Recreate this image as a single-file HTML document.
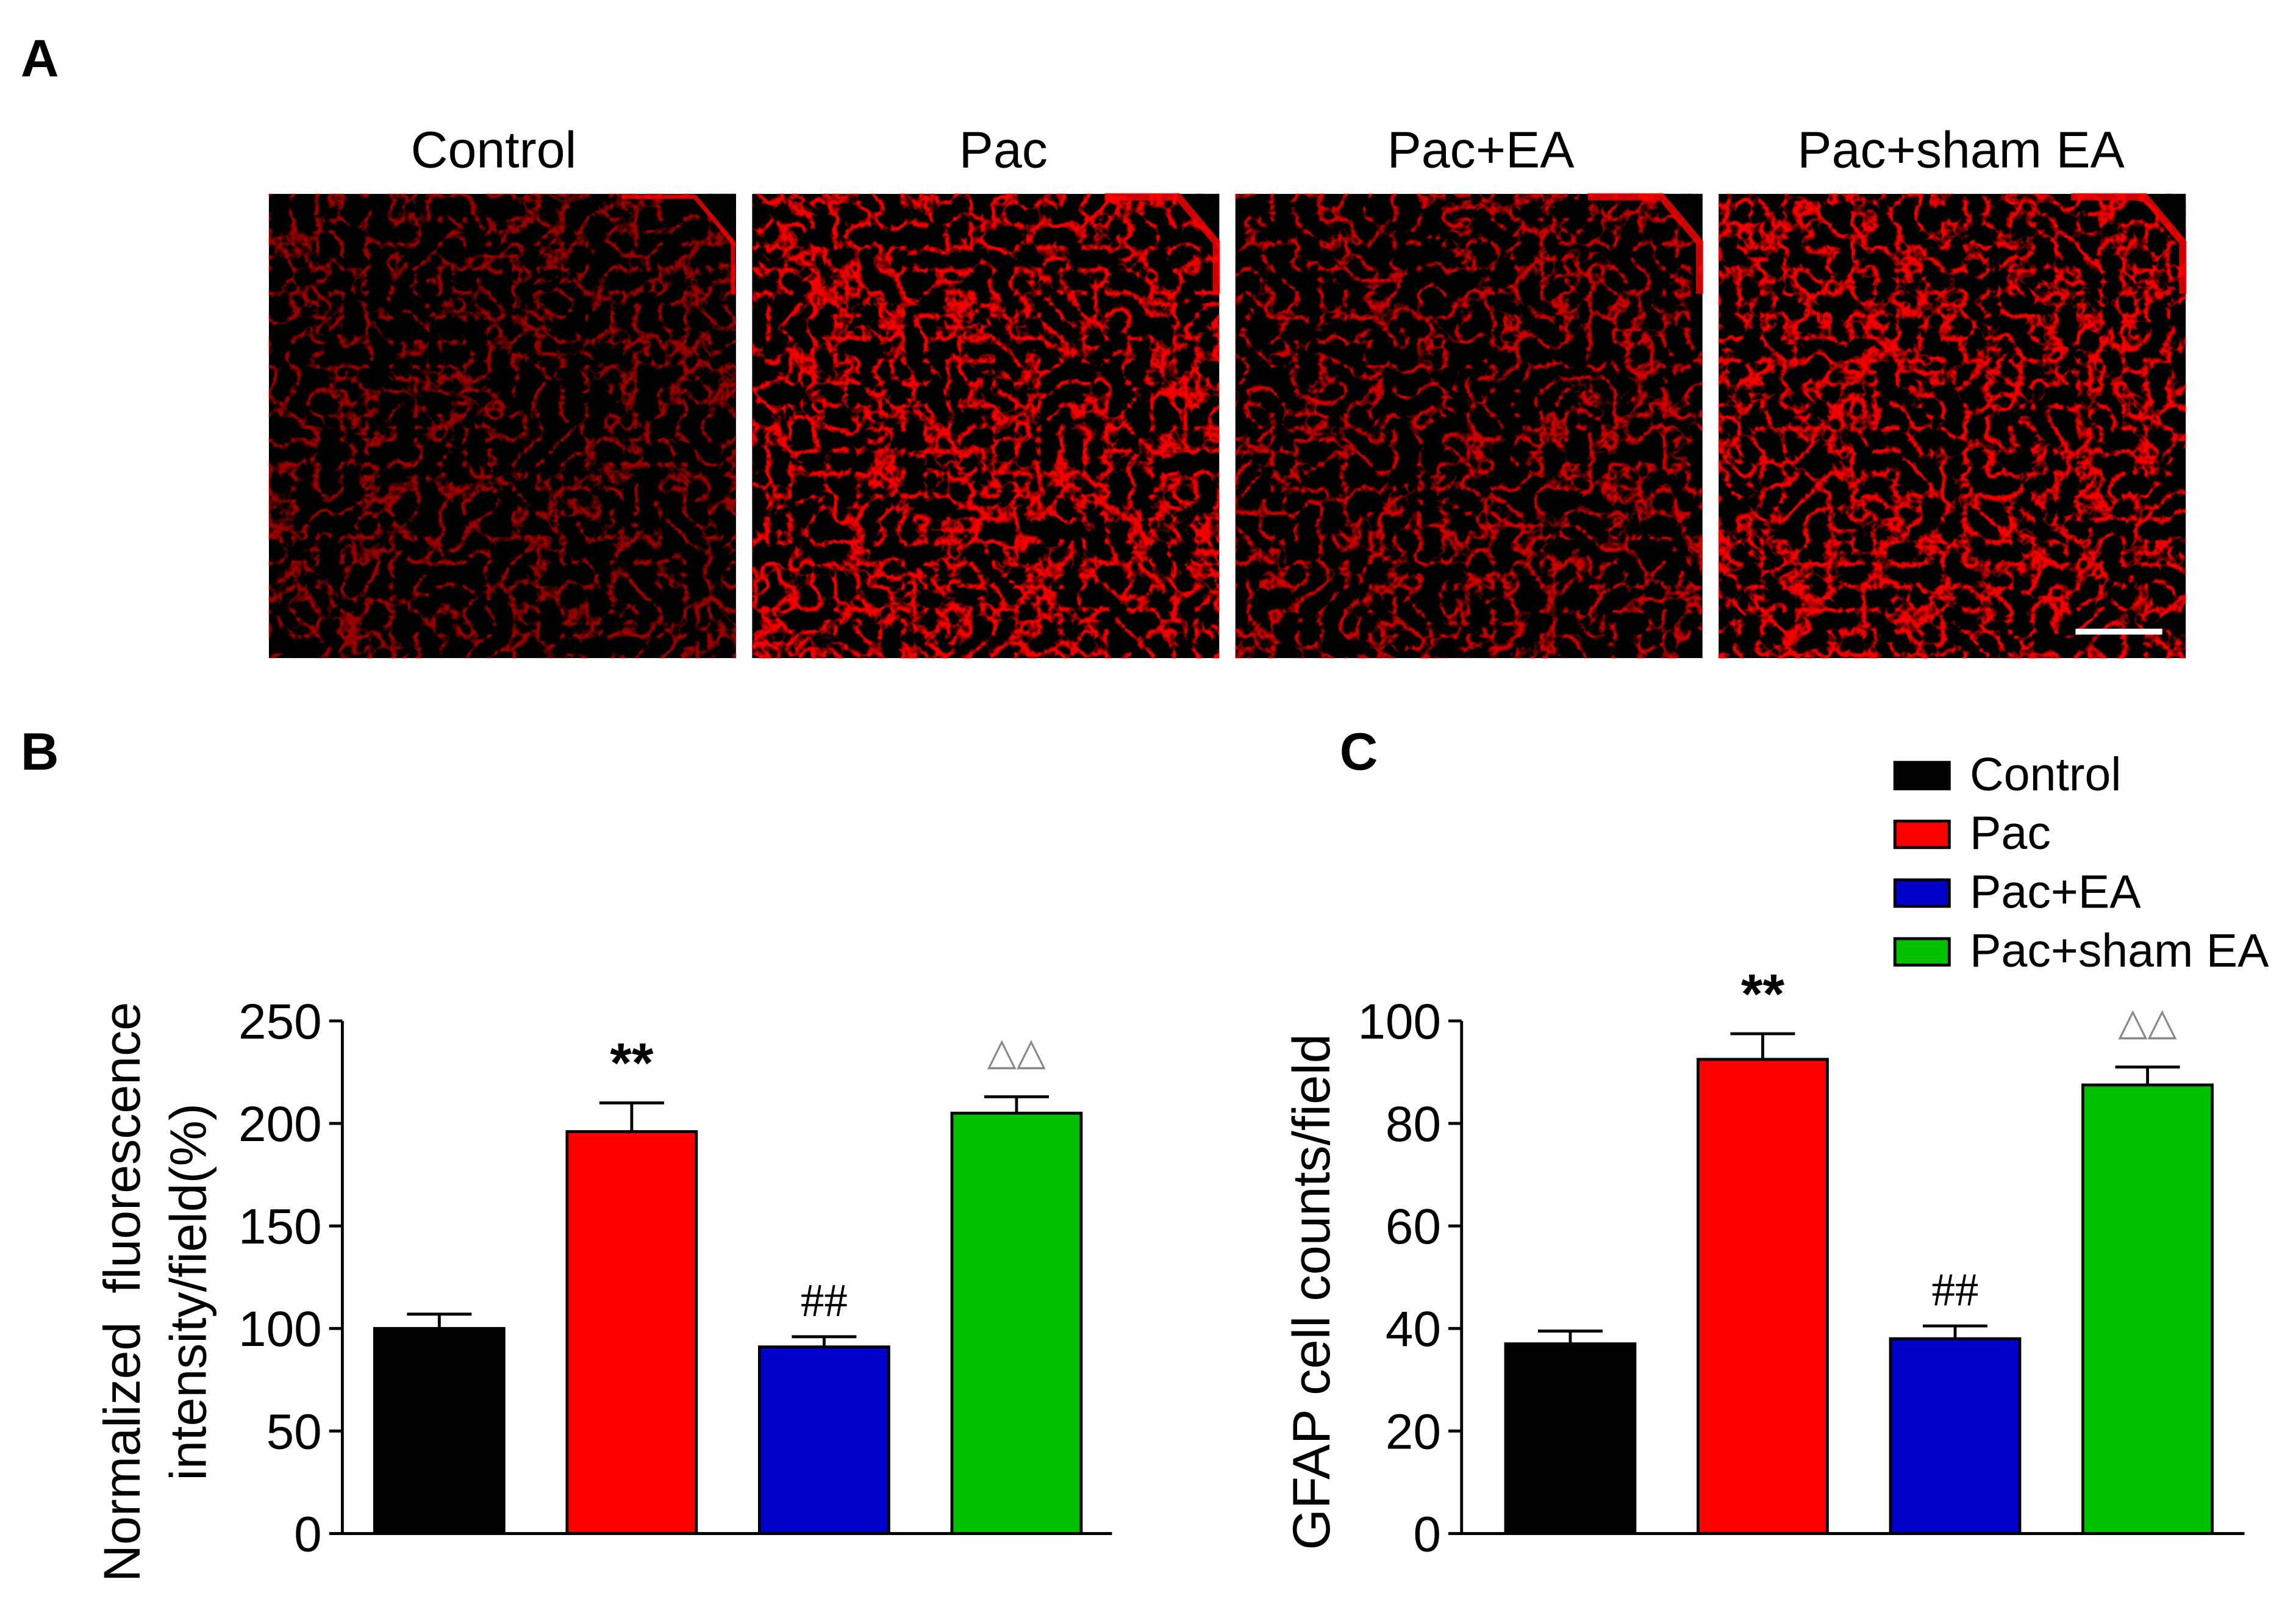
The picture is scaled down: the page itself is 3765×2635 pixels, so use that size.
<!DOCTYPE html>
<html><head><meta charset="utf-8"><style>html,body{margin:0;padding:0;background:#fff}svg{display:block}</style></head>
<body>
<svg id="fig" xmlns="http://www.w3.org/2000/svg" width="3765" height="2635" viewBox="0 0 1563 1094" font-family="Liberation Sans, Arial, sans-serif">
<defs>
<filter id="tex" x="0" y="0" width="100%" height="100%">
<feTurbulence type="turbulence" baseFrequency="0.06" numOctaves="3" seed="4"/>
<feColorMatrix type="matrix" values="0 0 0 0 1  0 0 0 0 0  0 0 0 0 0  0 0 0 -6 1.5"/>
</filter>
<filter id="tex2" x="0" y="0" width="100%" height="100%">
<feTurbulence type="turbulence" baseFrequency="0.065" numOctaves="3" seed="9"/>
<feColorMatrix type="matrix" values="0 0 0 0 1  0 0 0 0 0  0 0 0 0 0  0 0 0 -5.5 1.6"/>
</filter>
<linearGradient id="edge" x1="0" y1="0" x2="1" y2="1">
<stop offset="0" stop-color="#f00" stop-opacity="0"/>
<stop offset="1" stop-color="#f00" stop-opacity="0"/>
</linearGradient>
</defs>
<rect width="1563" height="1094" fill="#fff"/>
<text x="14" y="52" font-size="36" font-weight="bold">A</text>
<text x="14" y="524" font-size="36" font-weight="bold">B</text>
<text x="912" y="524" font-size="36" font-weight="bold">C</text>
<g id="micro"></g>
<g id="chartB"></g>
<g id="chartC"></g>
<g id="legend"></g>
</svg>
<script>
const NS='http://www.w3.org/2000/svg';
const groups=['Control','Pac','Pac+EA','Pac+sham EA'];
const colors=['#000000','#ff0000','#0000c8','#00c000'];
const bValues=[100,196,91,205];
const bErrors=[7,14,5,8];
const bTicks=[0,50,100,150,200,250];
const bMarks=['','**','##','△△'];
const cValues=[37,92.5,38,87.5];
const cErrors=[2.5,5,2.5,3.5];
const cTicks=[0,20,40,60,80,100];
const cMarks=['','**','##','△△'];

function mk(tag,attrs,parent,txt){const e=document.createElementNS(NS,tag);for(const k in attrs)e.setAttribute(k,attrs[k]);if(txt!==undefined)e.textContent=txt;parent.appendChild(e);return e;}

const micro=document.getElementById('micro');
const imgX=[183,512,841,1170];
const titleCx=[336,683,1008,1335];
const texOp=[0.6,0.95,0.8,0.95];
groups.forEach((g,i)=>{
  const t=mk('text',{x:titleCx[i],y:114,'font-size':35,'text-anchor':'middle'},micro,g);
  
  
  const r=mk('rect',{x:imgX[i],y:132,width:318,height:316,fill:'#000'},micro);
  
  
  const n=mk('rect',{x:imgX[i],y:132,width:318,height:316,filter:i%2?'url(#tex2)':'url(#tex)',opacity:texOp[i]},micro);
  
  
  const c=mk('polygon',{points:`${imgX[i]+290},132 ${imgX[i]+318},132 ${imgX[i]+318},165`,fill:'#000'},micro);
  
  
  const ed=mk('polyline',{points:`${imgX[i]+240},134 ${imgX[i]+290},134 ${imgX[i]+316},165 ${imgX[i]+316},200`,fill:'none',stroke:'#f00','stroke-width':i===0?3:5,opacity:0.8},micro);
  
  
});
const sb=mk('line',{x1:1413,y1:430,x2:1472,y2:430,stroke:'#fff','stroke-width':4},micro);



function chart(id,x0,xEnd,yTop,yBot,vals,errs,ticks,marks,bar0,titles,titleX,titleSize){
  const g=document.getElementById(id);
  const max=ticks[ticks.length-1];
  const y=v=>yBot-(v/max)*(yBot-yTop);
  const step=131,bw=88;
  mk('line',{x1:x0,y1:yTop,x2:x0,y2:yBot,stroke:'#000','stroke-width':2},g);
  const xa=mk('line',{x1:x0-1,y1:yBot,x2:xEnd,y2:yBot,stroke:'#000','stroke-width':2},g);
  
  
  ticks.forEach(t=>{
    mk('line',{x1:x0-9,y1:y(t),x2:x0,y2:y(t),stroke:'#000','stroke-width':2},g);
    const l=mk('text',{x:x0-14,y:y(t)+12,'font-size':34,'text-anchor':'end'},g,String(t));
    
    
  });
  vals.forEach((v,i)=>{
    const bx=bar0+i*step, cx=bx+bw/2;
    const e=y(v+errs[i]);
    mk('line',{x1:cx,y1:y(v),x2:cx,y2:e,stroke:'#000','stroke-width':2},g);
    mk('line',{x1:cx-22,y1:e,x2:cx+22,y2:e,stroke:'#000','stroke-width':2},g);
    const r=mk('rect',{x:bx,y:y(v),width:bw,height:yBot-y(v),fill:colors[i],stroke:'#000','stroke-width':2},g);
    
    
    if(marks[i]){
      const isTri=marks[i]==='△△';
      const m=mk('text',{x:cx,y:e-(isTri?22:14),'font-size':isTri?26:marks[i]==='**'?38:32,'text-anchor':'middle',fill:isTri?'#888':'#000','font-family':marks[i]==='##'?'Liberation Serif, serif':'Liberation Sans, sans-serif','font-weight':marks[i]==='**'?'bold':'normal'},g,marks[i]);
      
      
    }
  });
  const cy=(yTop+yBot)/2+10;
  titles.forEach((tt,k)=>{
    const t=mk('text',{x:titleX[k],y:cy,'font-size':titleSize,'text-anchor':'middle',transform:`rotate(-90 ${titleX[k]} ${cy})`},g,tt);
    
    
  });
}
chart('chartB',233,757,695,1044,bValues,bErrors,bTicks,bMarks,255,['Normalized\u00a0\u00a0fluorescence','intensity/field(%)'],[95,140],35);
chart('chartC',995,1528,695,1044,cValues,cErrors,cTicks,cMarks,1025,['GFAP cell counts/field'],[905],36);

const lg=document.getElementById('legend');
groups.forEach((g,i)=>{
  const yy=519+i*40;
  const s=mk('rect',{x:1290,y:yy,width:37,height:18,fill:colors[i],stroke:'#000','stroke-width':2},lg);
  
  
  const t=mk('text',{x:1341,y:yy+19,'font-size':32},lg,g);
  
  
});
</script>
</body></html>
